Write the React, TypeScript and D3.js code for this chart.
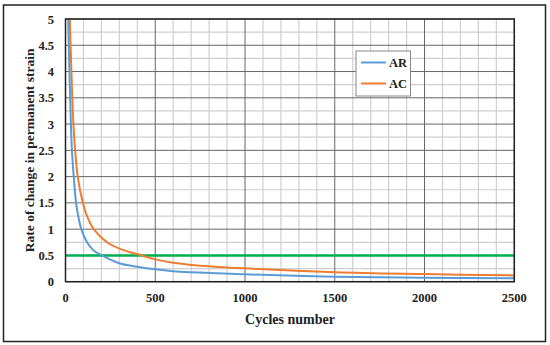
import React from "react";
import * as d3 from "d3";

const arCycles = [15, 22, 30, 36, 46, 59, 71, 88, 120, 155, 203, 300, 400, 500, 600, 700, 1000, 1500, 2000, 2500];
const arRate = [5, 4, 3, 2.5, 2, 1.5, 1.25, 1, 0.75, 0.6, 0.5, 0.35, 0.285, 0.235, 0.2, 0.18, 0.14, 0.095, 0.077, 0.065];
const acCycles = [24, 33, 44, 54, 68, 97, 120, 157, 231, 300, 360, 426, 500, 600, 700, 1000, 1500, 2000, 2500];
const acRate = [5, 4, 3, 2.5, 2, 1.5, 1.25, 1, 0.75, 0.63, 0.56, 0.5, 0.425, 0.36, 0.32, 0.255, 0.18, 0.145, 0.12];
const limitCycles = [0, 2500];
const limitRate = [0.5, 0.5];
const xTicks = [0, 500, 1000, 1500, 2000, 2500];
const yTicks = [0, 0.5, 1, 1.5, 2, 2.5, 3, 3.5, 4, 4.5, 5];
const seriesNames = ["AR", "AC"];

const W = 550, H = 345;
const L = 65.5, R = 514.3, T = 19, B = 281.7;
const FONT = "'Liberation Serif', 'DejaVu Serif', serif";

export default function App() {
  const x = d3.scaleLinear().domain([0, 2500]).range([L, R]);
  const y = d3.scaleLinear().domain([0, 5]).range([B, T]);
  const line = d3
    .line<[number, number]>()
    .x((d) => x(d[0]))
    .y((d) => y(d[1]))
    .curve(d3.curveCatmullRom.alpha(0.5));
  const zip = (a: number[], b: number[]) => a.map((v, i) => [v, b[i]] as [number, number]);

  const minorX = d3.range(100, 2500, 100).filter((v) => v % 500 !== 0);
  const minorY = d3.range(0.25, 5, 0.25).filter((v) => Math.abs(v * 2 - Math.round(v * 2)) > 1e-6);

  return (
    <svg width={W} height={H} style={{ position: "absolute", left: 0, top: 0, background: "#fff" }}>
      <rect x={3.5} y={5} width={542} height={336.5} fill="#fff" stroke="#222" strokeWidth={1.5} />
      <defs>
        <clipPath id="plot">
          <rect x={L} y={T} width={R - L} height={B - T} />
        </clipPath>
      </defs>
      {minorX.map((v) => (
        <line key={"mx" + v} x1={x(v)} x2={x(v)} y1={T} y2={B} stroke="#cfcfcf" strokeWidth={1.2} />
      ))}
      {minorY.map((v) => (
        <line key={"my" + v} x1={L} x2={R} y1={y(v)} y2={y(v)} stroke="#cfcfcf" strokeWidth={1.2} />
      ))}
      {xTicks.map((v) => (
        <line key={"gx" + v} x1={x(v)} x2={x(v)} y1={T} y2={B} stroke="#666" strokeWidth={1} />
      ))}
      {yTicks.map((v) => (
        <line key={"gy" + v} x1={L} x2={R} y1={y(v)} y2={y(v)} stroke="#666" strokeWidth={1} />
      ))}
      <g clipPath="url(#plot)">
        <path d={line(zip(limitCycles, limitRate)) || ""} fill="none" stroke="#00b050" strokeWidth={2.5} />
        <path d={line(zip(acCycles, acRate)) || ""} fill="none" stroke="#ed7d31" strokeWidth={2} />
        <path d={line(zip(arCycles, arRate)) || ""} fill="none" stroke="#5b9bd5" strokeWidth={2} />
      </g>
      <rect x={L} y={T} width={R - L} height={B - T} fill="none" stroke="#222" strokeWidth={1.5} />
      {xTicks.map((v) => (
        <text key={"tx" + v} x={x(v)} y={302} textAnchor="middle" fontFamily={FONT} fontWeight="bold" fontSize={12.5} fill="#222">
          {v}
        </text>
      ))}
      {yTicks.map((v) => (
        <text key={"ty" + v} x={54} y={y(v) + 4.5} textAnchor="end" fontFamily={FONT} fontWeight="bold" fontSize={12.5} fill="#222">
          {v}
        </text>
      ))}
      <text x={290} y={323.5} textAnchor="middle" fontFamily={FONT} fontWeight="bold" fontSize={14} fill="#222">
        Cycles number
      </text>
      <text
        transform={`translate(34,${(T + B) / 2}) rotate(-90)`}
        textAnchor="middle"
        fontFamily={FONT}
        fontWeight="bold"
        fontSize={13.5}
        fill="#222"
      >
        Rate of change in permanent strain
      </text>
      <g>
        <rect x={356} y={51} width={54.5} height={45} fill="#fff" stroke="#888" strokeWidth={1} />
        {seriesNames.map((n, i) => (
          <g key={n}>
            <line x1={361} x2={386} y1={62.5 + i * 21} y2={62.5 + i * 21} stroke={i === 0 ? "#5b9bd5" : "#ed7d31"} strokeWidth={2} />
            <text x={389} y={67 + i * 21} fontFamily={FONT} fontWeight="bold" fontSize={12.5} fill="#222">
              {n}
            </text>
          </g>
        ))}
      </g>
    </svg>
  );
}
